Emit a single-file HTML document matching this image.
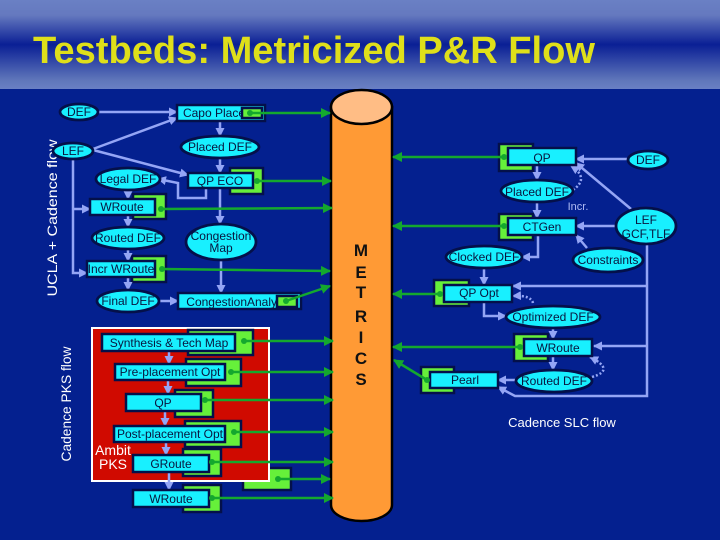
<!DOCTYPE html>
<html><head><meta charset="utf-8"><style>
html,body{margin:0;padding:0;background:#04208f}
svg{display:block}
text{font-family:"Liberation Sans",sans-serif;text-anchor:middle}
.l text{font-size:12px;fill:#08163f}
.b path{fill:none;stroke:#94a5f5;stroke-width:2.500}
.d path{fill:none;stroke:#94a5f5;stroke-width:2.500;stroke-dasharray:2 2}
.g path{fill:none;stroke:#14a82e;stroke-width:2.500}
.gb rect{fill:#66f03a;stroke:#04104a;stroke-width:2.500}
.cb rect{fill:#18f0ff;stroke:#04104a;stroke-width:2.500}
.e ellipse{fill:#18f0ff}
.es ellipse{fill:none;stroke:#04104a;stroke-width:2.800}
.dots circle{fill:#14a82e}
</style></head><body>
<svg width="720" height="540" viewBox="0 0 720 540" xmlns="http://www.w3.org/2000/svg">
<defs>
<linearGradient id="hd" x1="0" y1="0" x2="0" y2="1">
<stop offset="0" stop-color="#6a80c4"/><stop offset=".17" stop-color="#6579bf"/><stop offset=".5" stop-color="#0a1f95"/><stop offset=".9" stop-color="#5f76ba"/><stop offset="1" stop-color="#6a80c4"/>
</linearGradient>
<marker id="ab" markerWidth="9" markerHeight="9" refX="8" refY="4.500" orient="auto" markerUnits="userSpaceOnUse"><path d="M0 0L9 4.500L0 9z" fill="#94a5f5"/></marker>
<marker id="ag" markerWidth="10" markerHeight="10" refX="9" refY="5" orient="auto" markerUnits="userSpaceOnUse"><path d="M0 0L10 5L0 10z" fill="#14a82e"/></marker>
</defs>
<rect width="720" height="540" fill="#04208f"/>
<rect width="720" height="89" fill="url(#hd)"/>
<text x="314" y="63" style="font-size:38px;font-weight:bold" fill="#dfdf1a" textLength="562" lengthAdjust="spacingAndGlyphs">Testbeds: Metricized P&amp;R Flow</text>

<!-- cylinder -->
<path d="M331 107V505A30.500 16 0 0 0 392 505V107z" fill="#ff9a35" stroke="#000" stroke-width="2.500"/>
<ellipse cx="361.500" cy="107" rx="30.500" ry="17" fill="#ffbd85" stroke="#000" stroke-width="2.500"/>
<g style="font-weight:bold;font-size:17px" fill="#111">
<text x="361" y="256">M</text><text x="361" y="278">E</text><text x="361" y="298">T</text><text x="361" y="322">R</text><text x="361" y="343">I</text><text x="361" y="364">C</text><text x="361" y="385">S</text>
</g>

<!-- side labels -->
<text transform="translate(57,218) rotate(-90)" style="font-size:14px" fill="#fff" textLength="157" lengthAdjust="spacingAndGlyphs">UCLA + Cadence flow</text>
<text transform="translate(71,404) rotate(-90)" style="font-size:14px" fill="#fff" textLength="115" lengthAdjust="spacingAndGlyphs">Cadence PKS flow</text>

<!-- PKS block -->
<g class="gb"><rect x="243" y="468" width="48" height="22"/></g>
<rect x="92" y="328" width="177" height="153" fill="#d00a00" stroke="#fff" stroke-width="2"/>
<text x="113" y="455" style="font-size:14px" fill="#fff">Ambit</text>
<text x="113" y="469" style="font-size:14px" fill="#fff">PKS</text>

<!-- green behind boxes -->
<g class="gb">
<rect x="230" y="168" width="33" height="26"/><rect x="133" y="194" width="33" height="25"/><rect x="132" y="256" width="34" height="26"/>
<rect x="188" y="330" width="65" height="25"/><rect x="186" y="359" width="55" height="27"/><rect x="175" y="390" width="38" height="27"/><rect x="185" y="421" width="56" height="26"/><rect x="183" y="449" width="38" height="27"/><rect x="183" y="485" width="38" height="27"/>
<rect x="499" y="144" width="34" height="27"/><rect x="499" y="214" width="34" height="26"/><rect x="434" y="280" width="35" height="26"/><rect x="514" y="334" width="34" height="27"/><rect x="421" y="367" width="33" height="26"/>
</g>

<!-- blue connectors -->
<g class="b">
<path d="M98 112H177" marker-end="url(#ab)"/>
<path d="M220 121V136" marker-end="url(#ab)"/>
<path d="M220 158V173" marker-end="url(#ab)"/>
<path d="M93 149L177 118" marker-end="url(#ab)"/>
<path d="M93 150L188 175" marker-end="url(#ab)"/>
<path d="M206 188V198H178V183L158 179" marker-end="url(#ab)"/>
<path d="M128 190V199" marker-end="url(#ab)"/>
<path d="M73 159V273H87" marker-end="url(#ab)"/>
<path d="M73 209H90" marker-end="url(#ab)"/>
<path d="M128 215V227" marker-end="url(#ab)"/>
<path d="M128 249V261" marker-end="url(#ab)"/>
<path d="M128 277V290" marker-end="url(#ab)"/>
<path d="M160 301H178" marker-end="url(#ab)"/>
<path d="M220 188V224" marker-end="url(#ab)"/>
<path d="M221 260V293" marker-end="url(#ab)"/>
<path d="M169 351V364" marker-end="url(#ab)"/>
<path d="M168 380V394" marker-end="url(#ab)"/>
<path d="M165 411V426" marker-end="url(#ab)"/>
<path d="M166 442V455" marker-end="url(#ab)"/>
<path d="M169 472V490" marker-end="url(#ab)"/>
<path d="M628 159H576" marker-end="url(#ab)"/>
<path d="M537 165V180" marker-end="url(#ab)"/>
<path d="M537 202V218" marker-end="url(#ab)"/>
<path d="M631 209L576 163" marker-end="url(#ab)"/>
<path d="M616 226H576" marker-end="url(#ab)"/>
<path d="M587 248L576 235" marker-end="url(#ab)"/>
<path d="M538 235V257H522" marker-end="url(#ab)"/>
<path d="M484 268V285" marker-end="url(#ab)"/>
<path d="M647 245V396H515L498 387" marker-end="url(#ab)"/>
<path d="M647 286H513" marker-end="url(#ab)"/>
<path d="M647 346H594" marker-end="url(#ab)"/>
<path d="M484 302V316H506" marker-end="url(#ab)"/>
<path d="M553 328V339" marker-end="url(#ab)"/>
<path d="M553 356V370" marker-end="url(#ab)"/>
<path d="M516 380H498" marker-end="url(#ab)"/>
</g>
<g class="d">
<path d="M573 190Q590 178 571 166" marker-end="url(#ab)"/>
<path d="M533 303Q531 295 513 296" marker-end="url(#ab)"/>
<path d="M592 377Q616 370 590 357" marker-end="url(#ab)"/>
</g>

<!-- boxes -->
<g class="cb">
<rect x="177" y="105" width="88" height="16"/><rect x="188" y="173" width="65" height="15"/><rect x="90" y="199" width="65" height="16"/><rect x="87" y="261" width="68" height="16"/><rect x="178" y="293" width="123" height="16"/>
<rect x="102" y="334" width="133" height="17"/><rect x="115" y="364" width="110" height="16"/><rect x="126" y="394" width="75" height="17"/><rect x="114" y="426" width="111" height="16"/><rect x="133" y="455" width="76" height="17"/><rect x="133" y="490" width="76" height="17"/>
<rect x="508" y="148" width="68" height="17"/><rect x="508" y="218" width="68" height="17"/><rect x="444" y="285" width="68" height="17"/><rect x="524" y="339" width="68" height="17"/><rect x="430" y="372" width="68" height="16"/>
</g>
<!-- ellipses -->
<g class="e">
<ellipse cx="79" cy="112" rx="19" ry="8"/><ellipse cx="220" cy="147" rx="39" ry="11"/><ellipse cx="73" cy="151" rx="20" ry="8"/><ellipse cx="128" cy="179" rx="32" ry="11"/><ellipse cx="128" cy="238" rx="36" ry="11"/><ellipse cx="221" cy="242" rx="35" ry="18"/><ellipse cx="128" cy="301" rx="31" ry="11"/>
<ellipse cx="648" cy="160" rx="20" ry="9"/><ellipse cx="537" cy="191" rx="36" ry="11"/><ellipse cx="646" cy="226" rx="30" ry="18"/><ellipse cx="484" cy="257" rx="38" ry="11"/><ellipse cx="608" cy="260" rx="35" ry="12"/><ellipse cx="553" cy="317" rx="47" ry="11"/><ellipse cx="554" cy="381" rx="38" ry="11"/>
</g>

<!-- labels -->
<g class="l">
<text x="79" y="116">DEF</text><text x="73" y="155">LEF</text>
<text x="220" y="151">Placed DEF</text><text x="128" y="183">Legal DEF</text><text x="128" y="242">Routed DEF</text><text x="128" y="305">Final DEF</text>
<text x="221" y="240">Congestion</text><text x="221" y="252">Map</text>
<text x="214" y="117">Capo Place</text><text x="220" y="185">QP ECO</text><text x="122" y="211">WRoute</text><text x="121" y="273">Incr WRoute</text><text x="239" y="306">CongestionAnalysis</text>
<text x="169" y="347">Synthesis &amp; Tech Map</text><text x="170" y="376">Pre-placement Opt</text><text x="163" y="407">QP</text><text x="170" y="438">Post-placement Opt</text><text x="171" y="468">GRoute</text><text x="171" y="503">WRoute</text>
<text x="542" y="162">QP</text><text x="648" y="164">DEF</text><text x="537" y="196">Placed DEF</text><text x="542" y="231">CTGen</text>
<text x="646" y="224">LEF</text><text x="646" y="238">GCF,TLF</text>
<text x="484" y="261">Clocked DEF</text><text x="608" y="264">Constraints</text><text x="479" y="297">QP Opt</text><text x="553" y="321">Optimized DEF</text><text x="558" y="352">WRoute</text><text x="554" y="385">Routed DEF</text><text x="465" y="384">Pearl</text>
</g>
<g class="es">
<ellipse cx="79" cy="112" rx="19" ry="8"/><ellipse cx="220" cy="147" rx="39" ry="11"/><ellipse cx="73" cy="151" rx="20" ry="8"/><ellipse cx="128" cy="179" rx="32" ry="11"/><ellipse cx="128" cy="238" rx="36" ry="11"/><ellipse cx="221" cy="242" rx="35" ry="18"/><ellipse cx="128" cy="301" rx="31" ry="11"/>
<ellipse cx="648" cy="160" rx="20" ry="9"/><ellipse cx="537" cy="191" rx="36" ry="11"/><ellipse cx="646" cy="226" rx="30" ry="18"/><ellipse cx="484" cy="257" rx="38" ry="11"/><ellipse cx="608" cy="260" rx="35" ry="12"/><ellipse cx="553" cy="317" rx="47" ry="11"/><ellipse cx="554" cy="381" rx="38" ry="11"/>
</g>
<text x="578" y="210" style="font-size:11px" fill="#b0bcf5">Incr.</text>
<text x="562" y="427" style="font-size:13px" fill="#fff">Cadence SLC flow</text>

<!-- small green tags on top -->
<g class="gb"><rect x="242" y="108" width="20" height="10"/><rect x="277" y="296" width="20" height="11"/></g>

<!-- green connectors -->
<g class="g">
<path d="M250 113H330" marker-end="url(#ag)"/>
<path d="M257 181H331" marker-end="url(#ag)"/>
<path d="M161 209L332 208" marker-end="url(#ag)"/>
<path d="M162 269L330 271" marker-end="url(#ag)"/>
<path d="M286 301L330 286" marker-end="url(#ag)"/>
<path d="M244 341H333" marker-end="url(#ag)"/>
<path d="M231 372H333" marker-end="url(#ag)"/>
<path d="M205 400H333" marker-end="url(#ag)"/>
<path d="M234 432H333" marker-end="url(#ag)"/>
<path d="M212 462H333" marker-end="url(#ag)"/>
<path d="M278 479H330" marker-end="url(#ag)"/>
<path d="M212 498H333" marker-end="url(#ag)"/>
<path d="M504 157H393" marker-end="url(#ag)"/>
<path d="M504 226H393" marker-end="url(#ag)"/>
<path d="M440 294H393" marker-end="url(#ag)"/>
<path d="M520 347H393" marker-end="url(#ag)"/>
<path d="M427 380L394 360" marker-end="url(#ag)"/>
</g>
<g class="dots">
<circle cx="250" cy="113" r="3"/><circle cx="257" cy="181" r="3"/><circle cx="161" cy="209" r="3"/><circle cx="162" cy="269" r="3"/><circle cx="286" cy="301" r="3"/><circle cx="244" cy="341" r="3"/><circle cx="231" cy="372" r="3"/><circle cx="205" cy="400" r="3"/><circle cx="234" cy="432" r="3"/><circle cx="212" cy="462" r="3"/><circle cx="278" cy="479" r="3"/><circle cx="212" cy="498" r="3"/><circle cx="504" cy="157" r="3"/><circle cx="504" cy="226" r="3"/><circle cx="440" cy="294" r="3"/><circle cx="520" cy="347" r="3"/><circle cx="427" cy="380" r="3"/>
</g>
</svg>
</body></html>
